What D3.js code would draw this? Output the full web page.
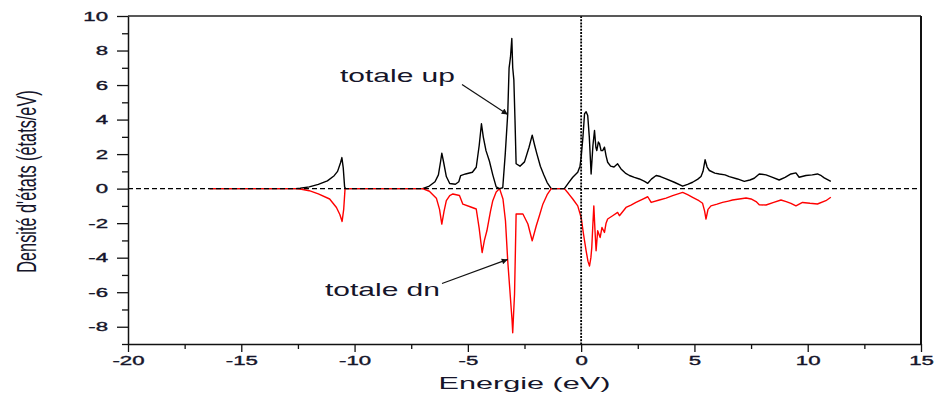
<!DOCTYPE html>
<html>
<head>
<meta charset="utf-8">
<script src="https://cdn.jsdelivr.net/npm/d3@7"></script>
<style>
  html, body { margin: 0; padding: 0; background: #fff; }
  svg { display: block; }
  text { font-family: "Liberation Sans", Arial, sans-serif; fill: #15152a; }
</style>
</head>
<body>
<svg id="chart" width="940" height="399"></svg>
<script>
// ---- data ----
const xTicks = [-20, -15, -10, -5, 0, 5, 10, 15];
const yTicks = [-8, -6, -4, -2, 0, 2, 4, 6, 8, 10];

const upEnergy = [-16.4,-12.6,-12.4,-12.0,-11.6,-11.2,-10.9,-10.75,-10.62,-10.56,-10.5,-10.44,-10.4,
  -7.0,-6.7,-6.45,-6.3,-6.2,-6.15,-6.08,-5.95,-5.8,-5.55,-5.4,-5.32,-5.1,-4.8,-4.63,-4.5,-4.4,-4.32,-4.2,-4.05,-3.9,-3.75,-3.6,
  -3.46,-3.35,-3.24,-3.18,-3.12,-3.06,-3.02,-2.97,-2.92,-2.87,-2.7,-2.5,-2.3,-2.16,-2.05,-1.95,-1.8,-1.65,-1.5,-1.32,
  -0.74,-0.55,-0.37,-0.15,-0.05,0.0,0.08,0.15,0.22,0.29,0.36,0.44,0.52,0.59,0.65,0.69,0.76,0.81,0.88,0.95,1.03,1.1,1.17,
  1.3,1.45,1.61,1.76,1.95,2.13,2.35,2.57,2.8,2.94,3.1,3.31,3.5,3.75,4.11,4.48,4.7,4.92,5.15,5.29,5.38,5.47,5.56,5.66,
  5.9,6.1,6.35,6.54,6.9,7.2,7.45,7.64,7.86,8.16,8.45,8.74,9.0,9.26,9.48,9.62,9.92,10.2,10.43,10.6,10.73,11.02];
const upDos = [0,0,0.02,0.1,0.25,0.45,0.75,1.0,1.5,1.8,1.2,0.1,0,
  0,0.15,0.4,0.8,1.6,2.05,1.6,0.7,0.3,0.25,0.4,0.75,0.85,0.95,1.24,2.5,3.76,3.0,2.2,1.6,0.8,0.1,0,
  0.05,2.0,4.34,7.0,7.6,8.7,7.0,6.3,4.0,1.44,1.3,1.55,2.4,3.1,2.5,2.0,1.3,0.8,0.35,0,
  0,0.35,0.66,0.95,1.3,1.82,3.0,4.34,4.45,4.24,3.0,0.85,2.5,3.37,2.4,2.2,2.7,2.6,2.2,2.2,2.4,1.9,1.53,
  1.3,1.25,1.44,1.14,0.9,0.76,0.65,0.56,0.42,0.31,0.55,0.76,0.7,0.56,0.37,0.14,0.25,0.37,0.55,0.7,1.0,1.67,1.25,1.05,
  0.9,0.85,0.8,0.7,0.56,0.42,0.5,0.6,0.85,0.8,0.65,0.5,0.65,0.85,0.91,0.66,0.76,0.8,0.85,0.75,0.62,0.42];

const dnEnergy = [-16.4,-12.6,-12.4,-12.0,-11.6,-11.1,-10.8,-10.65,-10.55,-10.48,-10.42,
  -7.0,-6.7,-6.39,-6.25,-6.15,-6.05,-5.95,-5.8,-5.66,-5.37,-5.22,-4.9,-4.63,-4.5,-4.37,-4.27,-4.16,-4.0,-3.9,-3.75,-3.6,
  -3.45,-3.34,-3.24,-3.15,-3.09,-3.05,-3.02,-2.98,-2.94,-2.9,-2.87,-2.57,-2.35,-2.16,-1.98,-1.85,-1.69,-1.5,-1.32,
  -0.74,-0.55,-0.37,-0.15,0.0,0.1,0.22,0.3,0.37,0.43,0.47,0.52,0.56,0.61,0.66,0.73,0.84,0.92,1.03,1.1,1.17,1.39,1.61,1.69,
  1.98,2.2,2.42,2.7,2.94,3.09,3.45,3.75,4.04,4.48,4.7,4.92,5.2,5.36,5.45,5.51,5.6,5.73,6.0,6.24,6.5,6.68,6.98,7.28,7.5,
  7.72,7.86,8.16,8.5,8.82,9.05,9.26,9.48,9.77,10.1,10.43,10.8,11.02];
const dnDos = [0,0,-0.02,-0.12,-0.3,-0.6,-1.09,-1.5,-1.9,-1.2,0,
  0,-0.15,-0.55,-1.2,-2.05,-1.3,-0.7,-0.4,-0.31,-0.4,-0.9,-1.05,-1.18,-2.3,-3.7,-3.0,-2.44,-1.3,-0.7,-0.2,0,
  -0.6,-1.86,-4.19,-5.8,-6.9,-7.6,-8.35,-7.2,-6.12,-3.5,-1.47,-1.47,-2.05,-3.02,-2.15,-1.6,-0.9,-0.35,0,
  0,-0.3,-0.6,-1.0,-1.67,-2.6,-3.6,-4.2,-4.48,-4.0,-3.4,-2.0,-1.0,-2.4,-3.6,-2.44,-2.83,-2.25,-2.54,-2.0,-1.76,-1.57,-1.38,-1.57,
  -1.09,-0.95,-0.8,-0.62,-0.47,-0.8,-0.66,-0.55,-0.41,-0.22,-0.35,-0.5,-0.7,-0.85,-1.3,-1.76,-1.2,-1.0,-0.9,-0.8,-0.72,-0.66,-0.6,-0.54,-0.6,
  -0.75,-0.93,-0.95,-0.8,-0.66,-0.75,-0.85,-1.0,-0.8,-0.85,-0.89,-0.7,-0.5];

const xTitle = "Energie (eV)";
const yTitle = "Densité d'états (états/eV)";
const labelUp = "totale up";
const labelDn = "totale dn";

// ---- layout ----
const svg = d3.select("#chart");
const L = 128, R = 921, T = 16, B = 344;
const x = d3.scaleLinear().domain([-20, 15]).range([L, R]);
const y = d3.scaleLinear().domain([-9, 10]).range([B, T]);
const SX = 1.85; // horizontal stretch of the reference picture's text
const INK = "#15152a";

function stretchTo(sel, targetW) {
  const w = sel.node().getComputedTextLength();
  return targetW / w;
}

// curves
const line = d3.line().x(d => x(d[0])).y(d => y(d[1]));
const upPts = upEnergy.map((e, i) => [e, upDos[i]]);
const dnPts = dnEnergy.map((e, i) => [e, dnDos[i]]);
svg.append("path").attr("d", line(upPts)).attr("fill", "none")
  .attr("stroke", "#000").attr("stroke-width", 1.4).attr("stroke-linejoin", "round");
svg.append("path").attr("d", line(dnPts)).attr("fill", "none")
  .attr("stroke", "#ff0000").attr("stroke-width", 1.4).attr("stroke-linejoin", "round");

// reference dashed lines
svg.append("line").attr("x1", L).attr("x2", R).attr("y1", y(0)).attr("y2", y(0))
  .attr("stroke", "#000").attr("stroke-width", 1.2).attr("stroke-dasharray", "5,3");
svg.append("line").attr("x1", x(0)).attr("x2", x(0)).attr("y1", T).attr("y2", B)
  .attr("stroke", "#000").attr("stroke-width", 1.8).attr("stroke-dasharray", "2,1.2");

// frame (top & right)
svg.append("line").attr("x1", L).attr("x2", R).attr("y1", T).attr("y2", T)
  .attr("stroke", "#222").attr("stroke-width", 1.4);
svg.append("line").attr("x1", R).attr("x2", R).attr("y1", T).attr("y2", B)
  .attr("stroke", "#111").attr("stroke-width", 2);

// minor ticks
const yMinor = d3.range(-9, 10, 2);
svg.append("g").attr("transform", `translate(${L},0)`)
  .call(d3.axisLeft(y).tickValues(yMinor).tickSize(6).tickFormat(""))
  .call(g => g.select(".domain").remove())
  .call(g => g.selectAll("line").attr("stroke", "#111").attr("stroke-width", 1.3));
const xMinor = d3.range(-17.5, 15, 5);
svg.append("g").attr("transform", `translate(0,${B})`)
  .call(d3.axisBottom(x).tickValues(xMinor).tickSize(5).tickFormat(""))
  .call(g => g.select(".domain").remove())
  .call(g => g.selectAll("line").attr("stroke", "#111").attr("stroke-width", 1.3));

// major axes
const fmt = d => String(d); // plain hyphen-minus like the reference
const gy = svg.append("g").attr("transform", `translate(${L},0)`)
  .call(d3.axisLeft(y).tickValues(yTicks).tickSize(11).tickSizeOuter(0).tickFormat(fmt));
const gx = svg.append("g").attr("transform", `translate(0,${B})`)
  .call(d3.axisBottom(x).tickValues(xTicks).tickSize(8).tickSizeOuter(0).tickFormat(fmt));

[gx, gy].forEach(g => {
  g.selectAll("line").attr("stroke", "#111").attr("stroke-width", 1.3);
  g.select(".domain").attr("stroke", "#111").attr("stroke-width", 1.5);
});
gy.selectAll("text")
  .attr("x", 0).attr("dy", "0.35em")
  .attr("transform", `translate(-20,0) scale(${SX},1)`)
  .attr("text-anchor", "end")
  .style("font-size", "12px").style("font-family", '"Liberation Sans", Arial, sans-serif')
  .attr("fill", INK).attr("stroke", INK).attr("stroke-width", 0.35);
gx.selectAll("text")
  .attr("x", 0).attr("y", 21.5).attr("dy", 0)
  .attr("transform", `scale(${SX},1)`)
  .attr("text-anchor", "middle")
  .style("font-size", "12px").style("font-family", '"Liberation Sans", Arial, sans-serif')
  .attr("fill", INK).attr("stroke", INK).attr("stroke-width", 0.35);

// axis titles
const xt = svg.append("text").text(xTitle)
  .attr("text-anchor", "middle").style("font-size", "17px");
const sxt = stretchTo(xt, 172);
xt.attr("transform", `translate(${(L + R) / 2},389) scale(${sxt},1)`);

const yt = svg.append("text").text(yTitle)
  .attr("text-anchor", "middle").attr("dy", "0.35em").style("font-size", "16.3px");
yt.attr("transform", `translate(26,181.5) scale(1.75,1) rotate(-90)`);

// annotations
const defs = svg.append("defs");
defs.append("marker").attr("id", "ah").attr("viewBox", "0 0 10 10")
  .attr("refX", 10).attr("refY", 5).attr("markerWidth", 10).attr("markerHeight", 6)
  .attr("markerUnits", "userSpaceOnUse").attr("orient", "auto")
  .append("path").attr("d", "M0,0 L10,5 L0,10 Z").attr("fill", "#111");

const tu = svg.append("text").text(labelUp).style("font-size", "17.5px");
tu.attr("transform", `translate(340,82) scale(${stretchTo(tu, 115)},1)`);
const td = svg.append("text").text(labelDn).style("font-size", "17.5px");
td.attr("transform", `translate(325,295.5) scale(${stretchTo(td, 115)},1)`);

// arrows point at the flanks of the main peaks
svg.append("line").attr("x1", 462).attr("y1", 84.5).attr("x2", x(-3.24)).attr("y2", y(4.3))
  .attr("stroke", "#111").attr("stroke-width", 1.2).attr("marker-end", "url(#ah)");
svg.append("line").attr("x1", 442).attr("y1", 283.5).attr("x2", x(-3.24)).attr("y2", y(-4.1))
  .attr("stroke", "#111").attr("stroke-width", 1.2).attr("marker-end", "url(#ah)");
</script>
</body>
</html>
